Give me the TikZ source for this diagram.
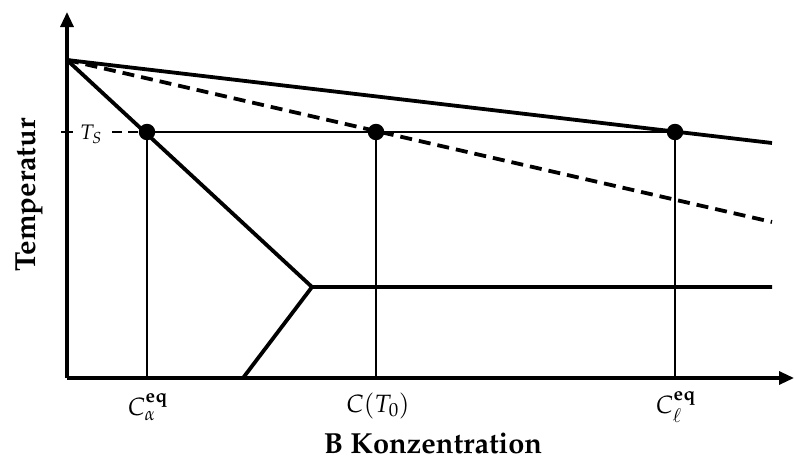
\documentclass[tikz,border=0pt]{standalone}
\usepackage[T1]{fontenc}
\usepackage{mathpazo}
\usetikzlibrary{arrows.meta}
\begin{document}
\begin{tikzpicture}[x=1pt,y=-1pt,
  thick line/.style={line width=3.8pt},
  axis line/.style={line width=3.2pt},
  thin line/.style={line width=2.9pt},
  dotmark/.style={circle,fill=black,inner sep=0pt,minimum size=16.5pt},
  lbl/.style={font=\fontsize{25}{28}\selectfont},
  tslbl/.style={font=\fontsize{21}{24}\selectfont},
  axlbl/.style={font=\fontsize{29}{32}\selectfont\bfseries}]
\useasboundingbox (0,0) rectangle (794,463);
% key points
\coordinate (O) at (67,378);
\coordinate (Ytop) at (67,12);
\coordinate (Xend) at (794,378);
\coordinate (P) at (67,60);
\coordinate (Lend) at (772,143);
\coordinate (Dend) at (772,222);
\coordinate (E) at (312,287);
\coordinate (Eend) at (772,287);
\coordinate (Ebot) at (243,378);
\coordinate (Sstart) at (112,132);
\coordinate (TL) at (61,132);
\coordinate (TR) at (73,132);
\node[dotmark] (d1) at (147,132) {};
\node[dotmark] (d2) at (376,132) {};
\node[dotmark] (d3) at (675,132) {};
\coordinate (b1) at (147,378);
\coordinate (b2) at (376,378);
\coordinate (b3) at (675,378);
% axes
\draw[axis line,-{Triangle[length=15pt,width=13pt]}] (O) -- (Ytop);
\draw[axis line,-{Triangle[length=15pt,width=13pt]}] (O) -- (Xend);
% liquidus, dashed T0, solidus
\draw[thick line] (P) -- (Lend);
\draw[thick line,dash pattern=on 12pt off 7pt] (P) -- (Dend);
\draw[thick line] (P) -- (E) -- (Eend);
\draw[thick line] (E) -- (Ebot);
% T_S line
\draw[thin line] (TL) -- (TR);
\draw[thin line,dash pattern=on 10pt off 6pt] (Sstart) -- (d1.center);
\draw[thin line] (d1.center) -- (d3.center);
\draw[thin line] (d1.center) -- (b1);
\draw[thin line] (d2.center) -- (b2);
\draw[thin line] (d3.center) -- (b3);
% labels
\node[tslbl] (ts) at (91,134) {$T_S$};
\node[lbl] (l1) at (148,407) {$C_\alpha^{\mathbf{eq}}$};
\node[lbl] (l2) at (378,406) {$C(T_0)$};
\node[lbl] (l3) at (676,407) {$C_\ell^{\mathbf{eq}}$};
\node[axlbl] (xl) at (433,444) {B Konzentration};
\node[axlbl,rotate=90] (yl) at (29,195) {Temperatur};
\end{tikzpicture}
\end{document}
